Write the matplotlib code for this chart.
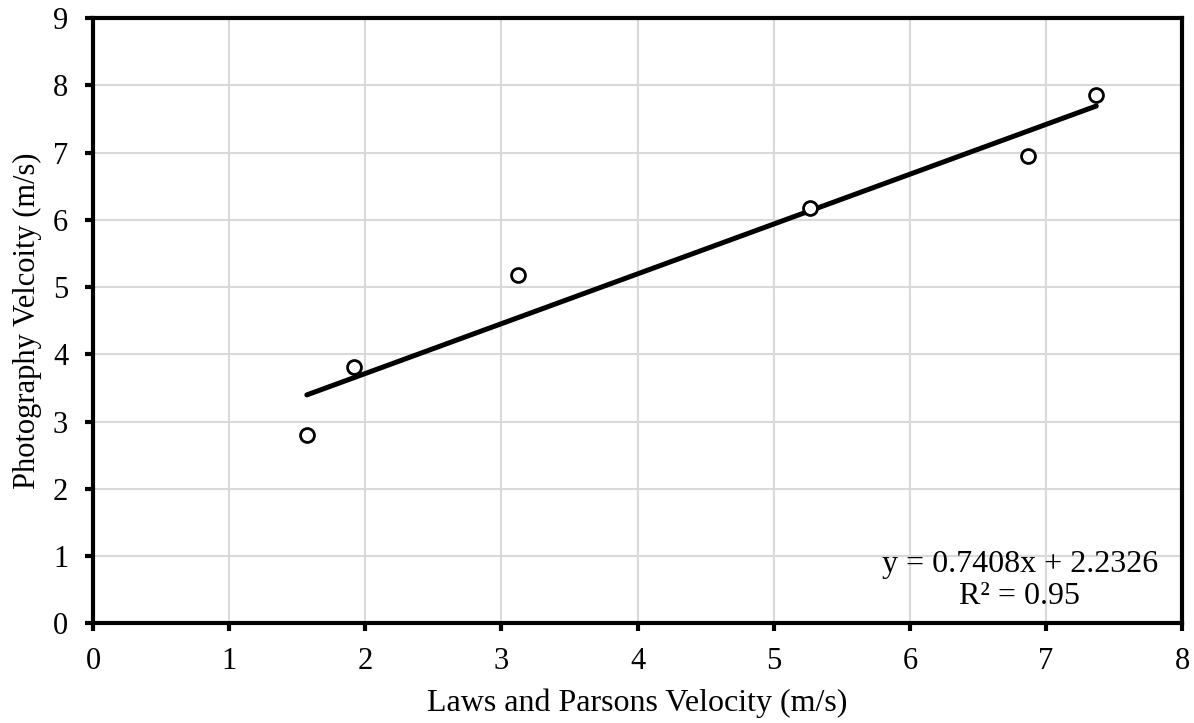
import numpy as np
import matplotlib.pyplot as plt

plt.rcParams['font.family'] = ['Liberation Serif', 'DejaVu Serif']

# measured velocities (m/s)
laws_parsons = [1.57, 1.92, 3.12, 5.27, 6.87, 7.37]
photography = [2.80, 3.81, 5.18, 6.17, 6.95, 7.85]

slope = 0.7408
intercept = 2.2326
r2 = 0.95

fig = plt.figure(figsize=(11.94, 7.23), dpi=100)
ax = fig.add_axes([0.078, 0.138, 0.912, 0.837])

ax.grid(True, color='#d9d9d9', linewidth=1.5, zorder=0)
ax.set_axisbelow(True)

# trend line over the data range
xt = np.array([min(laws_parsons), max(laws_parsons)])
ax.plot(xt, slope * xt + intercept, color='black', linewidth=3.6, zorder=2,
        solid_capstyle='round')

ax.plot(laws_parsons, photography, linestyle='none', marker='o', markersize=10,
        markerfacecolor='white', markeredgecolor='black', markeredgewidth=2,
        zorder=3)

ax.set_xlim(0, 8)
ax.set_ylim(0, 9)
ax.set_xticks(range(0, 9))
ax.set_yticks(range(0, 10))

for side in ['left', 'right', 'top', 'bottom']:
    ax.spines[side].set_linewidth(3)
ax.tick_params(direction='out', length=6, width=3, labelsize=22)
ax.tick_params(axis='x', pad=11)
ax.tick_params(axis='y', pad=12)

ax.set_xlabel('Laws and Parsons Velocity (m/s)', fontsize=23, labelpad=9)
ax.set_ylabel('Photography Velcoity (m/s)', fontsize=22, labelpad=8)

ax.text(0.851, 0.071, 'y = %.4fx + %.4f\nR² = %.2f' % (slope, intercept, r2),
        transform=ax.transAxes, ha='center', va='center', fontsize=23,
        linespacing=1.12)

fig.savefig('out.png', dpi=100)
